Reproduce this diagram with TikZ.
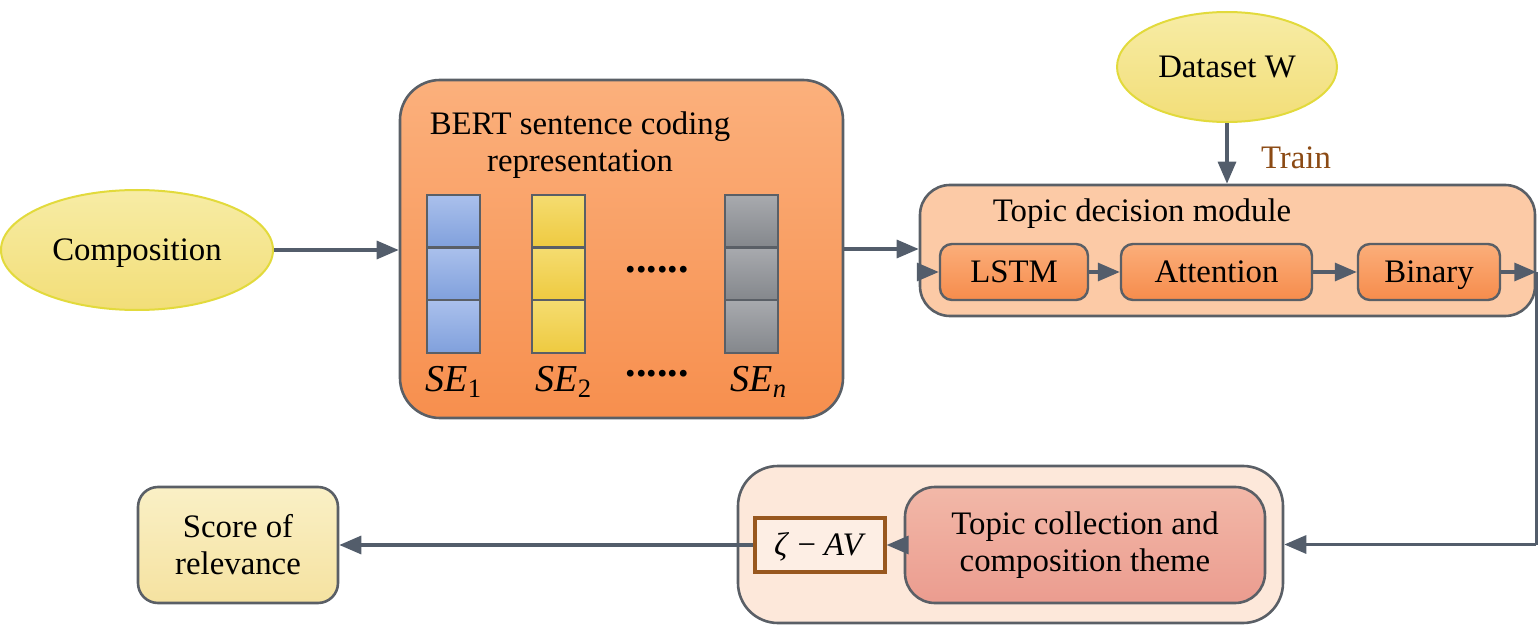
\documentclass[tikz,border=0pt]{standalone}
\usepackage{fontspec}
\setmainfont{Liberation Serif}
\usetikzlibrary{shapes.geometric,arrows.meta}
\definecolor{edge}{HTML}{5A5F66}
\definecolor{arr}{HTML}{535D6B}
\definecolor{ylw}{HTML}{E2DA3C}
\definecolor{brn}{HTML}{8B4A14}
\definecolor{ovtop}{HTML}{F7ECA5}
\definecolor{ovbot}{HTML}{F2DE78}
\definecolor{bertop}{HTML}{FBB07C}
\definecolor{berbot}{HTML}{F78F4E}
\definecolor{smtop}{HTML}{FBAE7A}
\definecolor{smbot}{HTML}{F68C4C}
\definecolor{bltop}{HTML}{AAC0EC}
\definecolor{blbot}{HTML}{80A0DC}
\definecolor{yltop}{HTML}{F5DC70}
\definecolor{ylbot}{HTML}{EECA40}
\definecolor{grtop}{HTML}{A8AAAE}
\definecolor{grbot}{HTML}{84878C}
\definecolor{tdmfill}{HTML}{FCCAA6}
\definecolor{outfill}{HTML}{FDE8DA}
\definecolor{tctop}{HTML}{F2B8A8}
\definecolor{tcbot}{HTML}{EB9C8F}
\definecolor{zedge}{HTML}{98571E}
\definecolor{zfill}{HTML}{FDEEE4}
\definecolor{sctop}{HTML}{FAF0C6}
\definecolor{scbot}{HTML}{F5E2A0}
\tikzset{
  x=0.5pt, y=-0.5pt,
  every node/.style={font=\fontsize{16.4}{18.6}\selectfont, inner sep=0pt, text=black},
  oneline/.style={text height=10.8pt, text depth=0pt},
  oval/.style={ellipse, oneline, draw=ylw, line width=1pt, top color=ovtop, bottom color=ovbot},
  bigbox/.style={draw=edge, line width=1.3pt, rounded corners=20pt},
  smallbox/.style={oneline, draw=edge, line width=1.2pt, rounded corners=6pt, top color=smtop, bottom color=smbot},
  cell/.style={draw=edge, line width=1.2pt, minimum width=26.5pt, minimum height=26.3pt},
  bluecell/.style={cell, top color=bltop, bottom color=blbot},
  ylwcell/.style={cell, top color=yltop, bottom color=ylbot},
  graycell/.style={cell, top color=grtop, bottom color=grbot},
  selabel/.style={font=\fontsize{19}{19}\selectfont},
  dotlabel/.style={font=\fontsize{21}{21}\selectfont},
  conn/.style={draw=arr, line width=1.6pt, -{Triangle[length=11pt,width=9pt]}},
  plain/.style={draw=arr, line width=1.6pt}
}
\begin{document}
\begin{tikzpicture}
\useasboundingbox (0,0) rectangle (1539,626);

% Composition
\node[oval, minimum width=136pt, minimum height=60pt] (comp) at (137,250) {Composition};

% BERT box
\node[bigbox, minimum width=221.5pt, minimum height=169pt, top color=bertop, bottom color=berbot] (bert) at (621.5,249) {};
\node[align=center] (berttitle) at (580,145) {BERT sentence coding\\representation};
\foreach \c/\s/\x in {a/bluecell/453.5, b/ylwcell/558.5, c/graycell/751.5}{
  \node[\s] (\c1) at (\x,221.5) {};
  \node[\s] (\c2) at (\x,274) {};
  \node[\s] (\c3) at (\x,326.5) {};
}
\node[dotlabel] (dots1) at (657,270) {\textbf{......}};
\node[dotlabel] (dots2) at (657,374) {\textbf{......}};
\node[selabel] (se1) at (454,382) {\textit{SE}\textsubscript{1}};
\node[selabel] (se2) at (564,382) {\textit{SE}\textsubscript{2}};
\node[selabel] (sen) at (759,382) {\textit{SE}\textsubscript{\textit{n}}};

% Dataset W
\node[oval, minimum width=110pt, minimum height=55pt] (ds) at (1227,67) {Dataset W};
\node[text=brn] (train) at (1296,158) {Train};

% Topic decision module
\node[bigbox, rounded corners=15pt, minimum width=307.5pt, minimum height=65.5pt, fill=tdmfill] (tdm) at (1227.5,250.5) {};
\node (tdmtitle) at (1142,214) {Topic decision module};
\node[smallbox, minimum width=74pt, minimum height=28pt] (lstm) at (1014,272) {LSTM};
\node[smallbox, minimum width=95.5pt, minimum height=28pt] (att) at (1216.5,272) {Attention};
\node[smallbox, minimum width=71pt, minimum height=28pt] (bin) at (1429,272) {Binary};

% Bottom group
\node[bigbox, minimum width=272.5pt, minimum height=78.5pt, fill=outfill] (outer) at (1010.5,544.5) {};
\node[bigbox, rounded corners=15pt, minimum width=180pt, minimum height=58pt, align=center, top color=tctop, bottom color=tcbot] (tc) at (1085,545) {Topic collection and\\composition theme};
\node[oneline, draw=zedge, line width=1.6pt, fill=zfill, minimum width=65pt, minimum height=27pt] (zeta) at (820,545) {\textit{ζ} − \textit{AV}};

% Score
\node[bigbox, rounded corners=10pt, minimum width=100pt, minimum height=58pt, align=center, top color=sctop, bottom color=scbot] (score) at (238,545) {Score of\\relevance};

% Connectors
\coordinate (tdmin) at (tdm.west |- lstm.west);
\coordinate (tdmout) at (tdm.east |- bin.east);
\coordinate (turn) at (tdm.east |- outer.east);
\draw[conn] (comp.east) -- (comp.east -| bert.west);
\draw[conn] (bert.east) -- (bert.east -| tdm.west);
\draw[conn] (tdmin) -- (lstm.west);
\draw[conn] (lstm.east) -- (att.west);
\draw[conn] (att.east) -- (bin.west);
\draw[conn] (bin.east) -- (tdmout);
\draw[conn] (ds.south) -- (ds.south |- tdm.north);
\draw[plain] (tdmout) -- (turn);
\draw[conn] (turn) -- (outer.east);
\draw[conn] (tc.west) -- (zeta.east);
\draw[conn] (zeta.west) -- (score.east);
\end{tikzpicture}
\end{document}
